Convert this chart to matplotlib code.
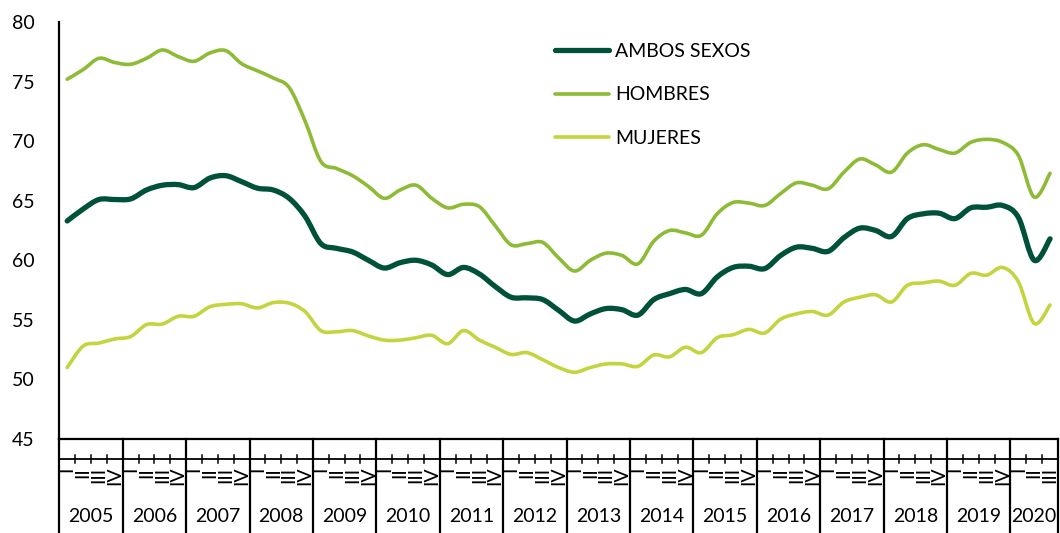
import numpy as np
import matplotlib
matplotlib.use("Agg")
import matplotlib.pyplot as plt
from matplotlib.path import Path
from matplotlib.patches import PathPatch
from matplotlib.lines import Line2D
from matplotlib.transforms import blended_transform_factory

# ---------------- data ----------------
years = [str(y) for y in range(2005, 2021)]
quarters = ["I", "II", "III", "IV"]
quarter_labels = quarters * 15 + quarters[:3]

ambos = [63.3, 64.3, 65.1, 65.1, 65.15, 65.9, 66.3, 66.35, 66.1, 66.9, 67.1, 66.6,
         66.05, 65.9, 65.2, 63.7, 61.4, 61.0, 60.7, 60.0, 59.35, 59.8, 60.0, 59.6,
         58.8, 59.4, 58.85, 57.8, 56.9, 56.85, 56.7, 55.8, 54.9, 55.5, 55.95, 55.85,
         55.4, 56.7, 57.2, 57.55, 57.2, 58.6, 59.4, 59.5, 59.3, 60.4, 61.1, 61.0,
         60.75, 61.9, 62.7, 62.5, 62.0, 63.5, 63.9, 63.95, 63.5, 64.4, 64.45, 64.6,
         63.6, 60.0, 61.8]
hombres = [75.2, 76.0, 76.95, 76.6, 76.45, 76.95, 77.65, 77.1, 76.7, 77.4, 77.6, 76.5,
           75.9, 75.3, 74.5, 71.7, 68.3, 67.7, 67.1, 66.2, 65.2, 65.9, 66.3, 65.2,
           64.4, 64.7, 64.5, 62.9, 61.3, 61.4, 61.5, 60.2, 59.1, 60.0, 60.6, 60.4,
           59.7, 61.6, 62.5, 62.3, 62.1, 63.9, 64.85, 64.8, 64.6, 65.6, 66.5, 66.3,
           66.0, 67.4, 68.5, 68.0, 67.4, 69.0, 69.7, 69.3, 69.0, 69.9, 70.15, 69.9,
           68.8, 65.3, 67.3]
mujeres = [51.0, 52.8, 53.05, 53.4, 53.6, 54.6, 54.65, 55.3, 55.3, 56.1, 56.3, 56.35,
           56.0, 56.45, 56.4, 55.7, 54.1, 54.0, 54.1, 53.65, 53.3, 53.3, 53.5, 53.7,
           53.0, 54.1, 53.3, 52.7, 52.1, 52.25, 51.65, 51.0, 50.6, 51.0, 51.3, 51.3,
           51.1, 52.05, 51.9, 52.7, 52.25, 53.5, 53.75, 54.2, 53.9, 55.05, 55.5, 55.7,
           55.4, 56.5, 56.9, 57.1, 56.5, 57.9, 58.1, 58.25, 57.9, 58.9, 58.75, 59.4,
           58.2, 54.7, 56.25]

series_names = ["AMBOS SEXOS", "HOMBRES", "MUJERES"]
series_values = [ambos, hombres, mujeres]
colors = ["#00513A", "#8DBB35", "#C4D43F"]
widths = [3.8, 2.6, 2.6]
yticks = [45, 50, 55, 60, 65, 70, 75, 80]

FONT = ["Lato", "DejaVu Sans"]
plt.rcParams["font.family"] = FONT

# ---------------- figure ----------------
W, H = 1060, 533
fig = plt.figure(figsize=(W / 100, H / 100), dpi=100)
x_left, x_right, y_top, y_bot = 59.3, 1058, 22, 439
ax = fig.add_axes([x_left / W, 1 - y_bot / H, (x_right - x_left) / W, (y_bot - y_top) / H])

n = len(quarter_labels)
xs = np.arange(n)


def smooth_path(xv, yv):
    pts = np.column_stack([xv, yv]).astype(float)
    m = len(pts)
    verts = [pts[0]]
    codes = [Path.MOVETO]
    for i in range(m - 1):
        p0 = pts[i - 1] if i > 0 else pts[i]
        p1 = pts[i]
        p2 = pts[i + 1]
        p3 = pts[i + 2] if i + 2 < m else pts[i + 1]
        c1 = p1 + (p2 - p0) / 6.0
        c2 = p2 - (p3 - p1) / 6.0
        verts += [c1, c2, p2]
        codes += [Path.CURVE4] * 3
    return Path(verts, codes)


# draw mujeres, hombres first, ambos on top
for idx in [2, 1, 0]:
    p = smooth_path(xs, series_values[idx])
    patch = PathPatch(p, facecolor="none", edgecolor=colors[idx], lw=widths[idx],
                      capstyle="round", joinstyle="round", zorder=3 + (2 - idx))
    ax.add_patch(patch)

ax.set_xlim(-0.5, n - 0.5)
ax.set_ylim(45, 80)
ax.set_yticks(yticks)
ax.tick_params(axis="y", length=0, pad=18, labelsize=14)
for s in ["top", "right"]:
    ax.spines[s].set_visible(False)
for s in ["left", "bottom"]:
    ax.spines[s].set_linewidth(1.6)
    ax.spines[s].set_color("black")

ax.set_xticks(xs)
ax.set_xticklabels(quarter_labels, rotation=90, fontsize=14)
ax.tick_params(axis="x", length=0, pad=20)

trans = blended_transform_factory(ax.transData, fig.transFigure)


def fy(py):
    return 1 - py / H


# line with small ticks under the axis
ax.plot([-0.5, n - 0.5], [fy(459), fy(459)], transform=trans, color="black", lw=1.3, clip_on=False)
for k in range(n + 1):
    ax.plot([k - 0.5, k - 0.5], [fy(455), fy(463)], transform=trans, color="black", lw=1.1, clip_on=False)

# year separators and labels
bounds = list(range(0, n, 4)) + [n]
for b in bounds:
    ax.plot([b - 0.5, b - 0.5], [fy(439), fy(533)], transform=trans, color="black", lw=1.6, clip_on=False)
for j, yr in enumerate(years):
    start = 4 * j - 0.5
    end = min(4 * j + 4, n) - 0.5
    ax.text((start + end) / 2, fy(517), yr, transform=trans, ha="center", va="center", fontsize=14)

# legend
handles = [Line2D([], [], color=c, lw=w, solid_capstyle="round") for c, w in zip(colors, widths)]
ax.legend(handles, series_names, loc="upper left", bbox_to_anchor=(555 / W, fy(43)),
          bbox_transform=fig.transFigure, frameon=False, handlelength=2.8, handletextpad=0.3,
          labelspacing=1.36, fontsize=14, borderpad=0, borderaxespad=0)

fig.savefig("out.png", dpi=100)
